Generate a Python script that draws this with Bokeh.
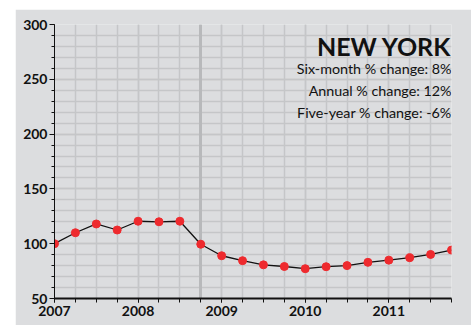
from bokeh.plotting import figure
from bokeh.models import FixedTicker, SingleIntervalTicker, Label, ColumnDataSource
from bokeh.embed import file_html
from bokeh.resources import INLINE

# Data (quarterly index values)
quarters = [2007.0, 2007.25, 2007.5, 2007.75, 2008.0, 2008.25, 2008.5, 2008.75,
            2009.0, 2009.25, 2009.5, 2009.75, 2010.0, 2010.25, 2010.5, 2010.75,
            2011.0, 2011.25, 2011.5, 2011.75]
values = [100, 110, 118, 112.5, 120.5, 120, 120.5, 99.5,
          89, 84.5, 80.7, 79.2, 77.2, 79, 80, 83,
          85, 87.2, 90.2, 94.2]
year_ticks = [2007, 2008, 2009, 2010, 2011]
title = "NEW YORK"
stats = ["Six-month % change: 8%", "Annual % change: 12%", "Five-year % change: -6%"]
marker_quarter = [2008.75]

BG = "#dcdddf"
GRID = "#c5c6c8"
FONT = "Lato"

p = figure(width=456, height=316, x_range=(2007, 2011.75), y_range=(50, 300),
           output_backend="svg", toolbar_location=None,
           background_fill_color=BG, border_fill_color=BG, outline_line_color=None,
           min_border_left=39, min_border_right=20, min_border_top=15, min_border_bottom=27)
p.margin = (9, 0, 0, 15)

# Axes
p.xaxis.ticker = FixedTicker(ticks=year_ticks, minor_ticks=quarters)
p.yaxis.ticker = SingleIntervalTicker(interval=50, num_minor_ticks=5)
for ax in (p.xaxis[0], p.yaxis[0]):
    ax.axis_line_color = "#111111"
    ax.major_tick_line_color = "#111111"
    ax.minor_tick_line_color = "#111111"
    ax.major_tick_in = 0
    ax.minor_tick_in = 0
    ax.major_label_text_font = FONT
    ax.major_label_text_font_size = "14px"
    ax.major_label_text_font_style = "bold"
    ax.major_label_text_color = "#111111"
p.xaxis.axis_line_width = 2
p.xaxis.major_tick_out = 4
p.xaxis.minor_tick_out = 4
p.xaxis.major_label_standoff = 3
p.yaxis.major_tick_out = 5
p.yaxis.minor_tick_out = 3
p.yaxis.major_label_standoff = 2

# Grid
p.xgrid.grid_line_color = GRID
p.xgrid.grid_line_width = 1.5
p.xgrid.minor_grid_line_color = GRID
p.xgrid.minor_grid_line_width = 1.5
p.ygrid.grid_line_color = GRID
p.ygrid.grid_line_width = 1.5
p.ygrid.minor_grid_line_color = GRID
p.ygrid.minor_grid_line_width = 1.5

p.vspan(x=marker_quarter, line_color="#b8b9bb", line_width=3)

src = ColumnDataSource(dict(x=quarters, y=values))
p.line("x", "y", source=src, line_color="#111111", line_width=1.3)
p.scatter("x", "y", source=src, size=8, fill_color="#ee2a2e", line_color="#ee2a2e")

# Title and stats
p.add_layout(Label(x=2011.75, y=280, text=title, text_align="right",
                   text_baseline="alphabetic", text_font=FONT, text_font_style="bold",
                   text_font_size="25px", text_color="#111111"))
for i, s in enumerate(stats):
    p.add_layout(Label(x=2011.75, y=260 - 20.1 * i, text=s, text_align="right",
                       text_baseline="alphabetic", text_font=FONT,
                       text_font_size="14.3px", text_color="#111111"))

open("out.html", "w").write(file_html(p, INLINE))
